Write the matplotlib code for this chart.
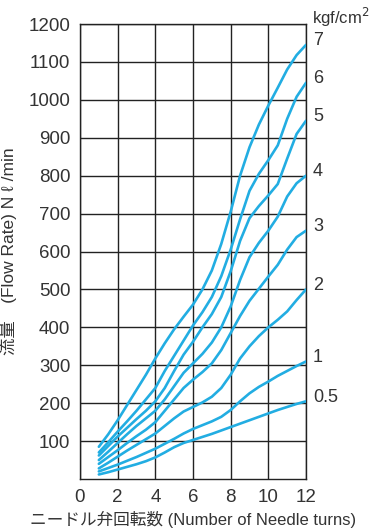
import matplotlib.pyplot as plt
from matplotlib import font_manager

# needle turns
turns = [1, 1.5, 2, 2.5, 3, 3.5, 4, 4.5, 5, 5.5, 6, 6.5, 7, 7.5, 8, 8.5, 9, 9.5, 10, 10.5, 11, 11.5, 12]

# flow rate (N l/min) per supply pressure
flow_7 = [85, 118, 155, 195, 235, 275, 318, 358, 395, 428, 460, 500, 550, 620, 705, 800, 875, 935, 985, 1032, 1080, 1118, 1145]
flow_6 = [70, 97, 125, 152, 180, 210, 240, 285, 325, 365, 405, 440, 480, 535, 605, 685, 760, 805, 841, 880, 950, 1008, 1045]
flow_5 = [62, 87, 112, 135, 158, 180, 205, 240, 285, 328, 362, 400, 435, 480, 548, 628, 688, 720, 748, 778, 845, 910, 945]
flow_4 = [50, 72, 95, 118, 140, 160, 180, 210, 245, 280, 305, 330, 360, 400, 455, 525, 585, 623, 655, 692, 745, 780, 800]
flow_3 = [40, 58, 76, 95, 113, 130, 150, 180, 210, 240, 262, 282, 305, 340, 385, 430, 470, 502, 534, 565, 605, 638, 655]
flow_2 = [28, 43, 59, 75, 90, 105, 120, 140, 160, 178, 190, 202, 217, 240, 275, 318, 350, 377, 400, 420, 442, 472, 500]
flow_1 = [20, 29, 38, 48, 58, 69, 80, 93, 106, 120, 132, 142, 152, 164, 182, 205, 226, 243, 257, 272, 285, 298, 310]
flow_05 = [12, 18, 25, 32, 39, 47, 57, 70, 84, 95, 103, 111, 119, 128, 137, 146, 155, 164, 173, 182, 190, 198, 205]

series = [flow_7, flow_6, flow_5, flow_4, flow_3, flow_2, flow_1, flow_05]
pressure_labels = ["7", "6", "5", "4", "3", "2", "1", "0.5"]

x_ticks = [0, 2, 4, 6, 8, 10, 12]
y_ticks = [100, 200, 300, 400, 500, 600, 700, 800, 900, 1000, 1100, 1200]

installed = {f.name for f in font_manager.fontManager.ttflist}
latin = "Liberation Sans Narrow" if "Liberation Sans Narrow" in installed else "Liberation Sans"
plt.rcParams["font.family"] = [latin, "Noto Sans CJK JP", "DejaVu Sans"]

line_color = "#22ade2"
text_color = "#333333"

fig = plt.figure(figsize=(3.69, 5.30), dpi=100)
ax = fig.add_axes([0.2168, 0.0962, 0.6125, 0.8585])

for vals in series:
    ax.plot(turns, vals, color=line_color, linewidth=1.9, solid_capstyle="round",
            solid_joinstyle="round", zorder=3)

for vals, lab in zip(series, pressure_labels):
    ax.annotate(lab, xy=(12, vals[-1]), xytext=(5, 3), textcoords="offset points",
                va="center", ha="left", fontsize=13, color=text_color, annotation_clip=False)

ax.text(1.025, 1.015, "kgf/cm$^2$", transform=ax.transAxes, fontsize=12,
        color=text_color, ha="left", va="center")

ax.set_xlim(0, 12)
ax.set_ylim(0, 1200)
ax.set_xticks(x_ticks)
ax.set_yticks(y_ticks)
ax.tick_params(length=0, labelsize=13.5, colors=text_color, pad=7)
ax.grid(True, color="#222222", linewidth=1.0)
for s in ax.spines.values():
    s.set_color("#222222")
    s.set_linewidth(1.0)
ax.set_axisbelow(True)

ax.set_xlabel("ニードル弁回転数 (Number of Needle turns)", fontsize=12, color=text_color, labelpad=4)
ax.set_ylabel("流量　(Flow Rate) N ℓ /min", fontsize=12.5, color=text_color, labelpad=8)

fig.savefig("out.png", dpi=100)
